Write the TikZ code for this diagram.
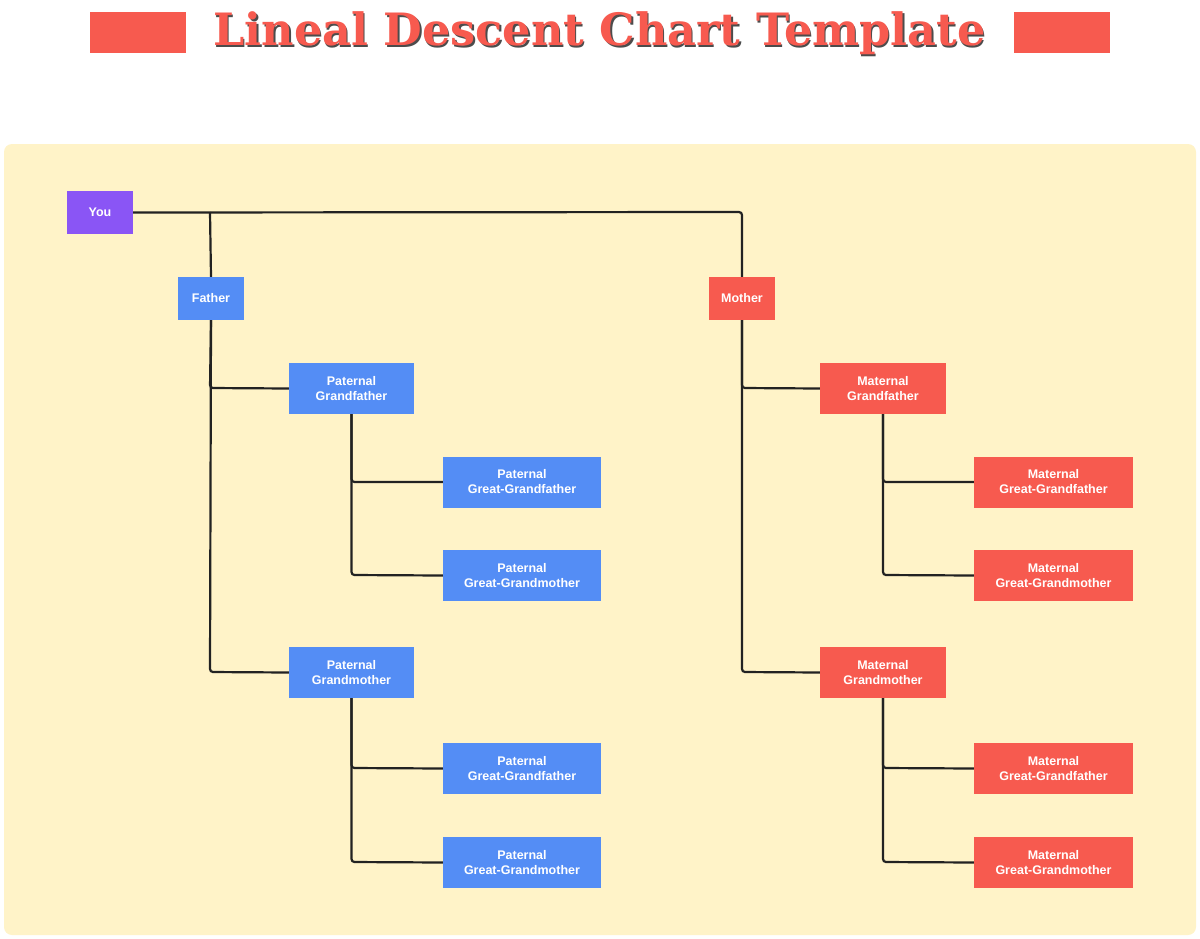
\documentclass[tikz,border=0pt]{standalone}
\usepackage{fontspec}
\setmainfont{Liberation Sans}
\newfontfamily\titlefont{DejaVu Serif}
\usepackage{graphicx}
\definecolor{bg}{HTML}{FFF3C8}
\definecolor{bl}{HTML}{548DF5}
\definecolor{rd}{HTML}{F75A4F}
\definecolor{pu}{HTML}{8A55F5}
\definecolor{ln}{HTML}{222222}
\begin{document}
\begin{tikzpicture}[x=1pt,y=-1pt,
  box/.style={text=white,font=\bfseries\fontsize{12.5}{15}\selectfont,align=center,inner sep=0pt,anchor=center},
  conn/.style={draw=ln,line width=2.2pt,rounded corners=3pt}]
\useasboundingbox (0,0) rectangle (1200,938);
\fill[white] (0,0) rectangle (1200,938);
\fill[bg,rounded corners=8pt] (4,144) rectangle (1196,935);
\fill[rd] (90,12) rectangle (186,53);
\fill[rd] (1014,12) rectangle (1110,53);
\node[text=black!70,inner sep=0pt] (tsh) at (600.8,34.8) {\resizebox{772pt}{!}{\titlefont\bfseries Lineal Descent Chart Template}};
\node[text=rd,inner sep=0pt] (title) at (599.5,33.5) {\resizebox{772pt}{!}{\titlefont\bfseries Lineal Descent Chart Template}};
% connector coordinates
\coordinate (j1) at (210,212);
\coordinate (j2) at (742,212);
\coordinate (pa1) at (210,388);
\coordinate (pa2) at (210,672);
\coordinate (ma1) at (742,388);
\coordinate (ma2) at (742,672);
\coordinate (pg1) at (351.5,482);
\coordinate (pg2) at (351.5,575);
\coordinate (pg3) at (351.5,768);
\coordinate (pg4) at (351.5,862);
\coordinate (mg1) at (883,482);
\coordinate (mg2) at (883,575);
\coordinate (mg3) at (883,768);
\coordinate (mg4) at (883,862);
% nodes
\node[box,fill=pu,minimum width=66pt,minimum height=43pt] (you) at (100,212.5) {You};
\node[box,fill=bl,minimum width=66pt,minimum height=43pt] (fa) at (211,298.5) {Father};
\node[box,fill=rd,minimum width=66pt,minimum height=43pt] (mo) at (742,298.5) {Mother};
\node[box,fill=bl,minimum width=125pt,minimum height=51pt] (pgf) at (351.5,388.5) {Paternal\\Grandfather};
\node[box,fill=bl,minimum width=125pt,minimum height=51pt] (pgm) at (351.5,672.5) {Paternal\\Grandmother};
\node[box,fill=rd,minimum width=126pt,minimum height=51pt] (mgf) at (883,388.5) {Maternal\\Grandfather};
\node[box,fill=rd,minimum width=126pt,minimum height=51pt] (mgm) at (883,672.5) {Maternal\\Grandmother};
\node[box,fill=bl,minimum width=158pt,minimum height=51pt] (p1) at (522,482) {Paternal\\Great-Grandfather};
\node[box,fill=bl,minimum width=158pt,minimum height=51pt] (p2) at (522,575.5) {Paternal\\Great-Grandmother};
\node[box,fill=bl,minimum width=158pt,minimum height=51pt] (p3) at (522,768.5) {Paternal\\Great-Grandfather};
\node[box,fill=bl,minimum width=158pt,minimum height=51pt] (p4) at (522,862.5) {Paternal\\Great-Grandmother};
\node[box,fill=rd,minimum width=159pt,minimum height=51pt] (m1) at (1053.5,482) {Maternal\\Great-Grandfather};
\node[box,fill=rd,minimum width=159pt,minimum height=51pt] (m2) at (1053.5,575.5) {Maternal\\Great-Grandmother};
\node[box,fill=rd,minimum width=159pt,minimum height=51pt] (m3) at (1053.5,768.5) {Maternal\\Great-Grandfather};
\node[box,fill=rd,minimum width=159pt,minimum height=51pt] (m4) at (1053.5,862.5) {Maternal\\Great-Grandmother};
% connectors
\draw[conn] (you.east) -- (j2) -- (mo.north);
\draw[conn] (j1) -- (fa.north);
\draw[conn] (fa.south) -- (pa2) -- (pgm.west);
\draw[conn] (fa.south) -- (pa1) -- (pgf.west);
\draw[conn] (mo.south) -- (ma2) -- (mgm.west);
\draw[conn] (mo.south) -- (ma1) -- (mgf.west);
\draw[conn] (pgf.south) -- (pg2) -- (p2.west);
\draw[conn] (pgf.south) -- (pg1) -- (p1.west);
\draw[conn] (pgm.south) -- (pg4) -- (p4.west);
\draw[conn] (pgm.south) -- (pg3) -- (p3.west);
\draw[conn] (mgf.south) -- (mg2) -- (m2.west);
\draw[conn] (mgf.south) -- (mg1) -- (m1.west);
\draw[conn] (mgm.south) -- (mg4) -- (m4.west);
\draw[conn] (mgm.south) -- (mg3) -- (m3.west);
\end{tikzpicture}
\end{document}
